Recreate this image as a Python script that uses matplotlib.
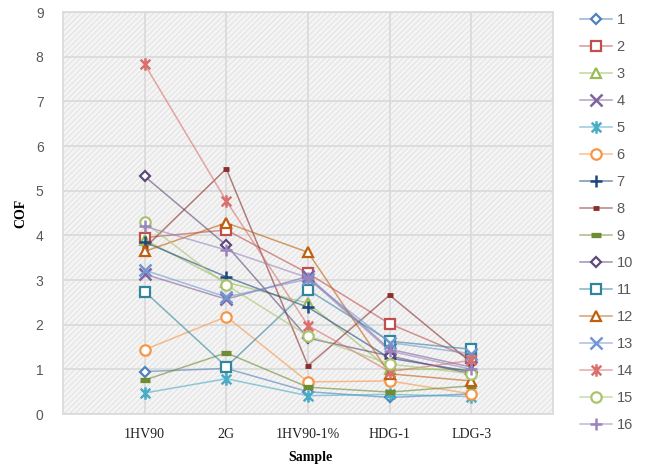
import matplotlib
matplotlib.use("Agg")
import matplotlib.pyplot as plt
from matplotlib.path import Path
from matplotlib.patches import Rectangle
from matplotlib.colors import to_rgba

categories = ['1HV90', '2G', '1HV90-1%', 'HDG-1', 'LDG-3']
s1 = [0.95, 1.02, 0.50, 0.37, 0.45]
s2 = [3.95, 4.12, 3.15, 2.02, 1.25]
s3 = [3.90, 2.95, 2.48, 1.00, 1.00]
s4 = [3.13, 2.57, 3.08, 1.45, 1.05]
s5 = [0.47, 0.79, 0.41, 0.44, 0.39]
s6 = [1.44, 2.18, 0.72, 0.74, 0.45]
s7 = [3.85, 3.07, 2.39, 1.25, 0.95]
s8 = [3.72, 5.49, 1.08, 2.66, 1.15]
s9 = [0.76, 1.37, 0.60, 0.49, 0.63]
s10 = [5.32, 3.78, 1.70, 1.30, 0.90]
s11 = [2.74, 1.06, 2.78, 1.63, 1.45]
s12 = [3.64, 4.28, 3.62, 0.90, 0.74]
s13 = [3.22, 2.62, 3.02, 1.60, 1.35]
s14 = [7.83, 4.77, 1.98, 0.95, 1.20]
s15 = [4.29, 2.89, 1.75, 1.12, 0.90]
s16 = [4.20, 3.67, 3.05, 1.41, 1.00]
series_labels = [str(i) for i in range(1, 17)]
series_values = [s1, s2, s3, s4, s5, s6, s7, s8, s9, s10, s11, s12, s13, s14, s15, s16]
yticks = [0, 1, 2, 3, 4, 5, 6, 7, 8, 9]

star = Path([(-1, -1), (1, 1), (-1, 1), (1, -1), (0, -1.3), (0, 1.3)],
            [Path.MOVETO, Path.LINETO, Path.MOVETO, Path.LINETO, Path.MOVETO, Path.LINETO])

colors = ['#4F81BD', '#C0504D', '#9BBB59', '#8064A2', '#4BACC6', '#F79646',
          '#1F497D', '#8B2F2D', '#6E8C34', '#5F497A', '#31859C', '#C0600E',
          '#7396D1', '#D9706D', '#A9C46C', '#9A85BE']
markers = ['D', 's', '^', 'x', star, 'o', '+', '_', '_', 'D', 's', '^', 'x', star, 'o', '+']
msizes = [5.5, 7, 7.5, 8, 9, 7.5, 8, 5, 7.5, 5.5, 7, 7.5, 8, 9, 7.5, 8]
mews = [1.6, 1.6, 1.6, 1.8, 1.8, 1.6, 1.8, 3.5, 3.8, 1.6, 1.6, 1.6, 1.8, 1.8, 1.6, 1.8]

fig = plt.figure(figsize=(6.5, 4.66), dpi=100)
ax = fig.add_axes([63/650, 1 - 414/466, 490/650, 402/466])
ax.set_facecolor('#f3f3f3')
ax.add_patch(Rectangle((0, 0), 1, 1, transform=ax.transAxes, facecolor='#f5f5f5',
                       edgecolor='#e6e6e6', hatch='//////', linewidth=0, zorder=0))

x = list(range(1, len(categories) + 1))
handles = []
for vals, lab, c, m, ms, mew in zip(series_values, series_labels, colors, markers, msizes, mews):
    lc = to_rgba(c, 0.6)
    h, = ax.plot(x, vals, color=lc, linewidth=1.1, marker=m, markersize=ms,
                 markeredgewidth=mew, markeredgecolor=c, markerfacecolor='white',
                 label=lab, zorder=3)
    handles.append(h)

ax.set_xlim(0, 6)
ax.set_ylim(0, 9)
ax.set_xticks(x)
ax.set_xticklabels(categories, fontfamily='Liberation Serif', fontsize=10, color='#222222')
ax.set_yticks(yticks)
ax.set_yticklabels([str(v) for v in yticks], fontfamily='Liberation Sans', fontsize=10, color='#595959')
ax.tick_params(axis='both', length=0)
ax.tick_params(axis='x', pad=10)
ax.tick_params(axis='y', pad=14)
ax.grid(True, color='#d9d9d9', linewidth=1.2, zorder=1)
ax.set_axisbelow(True)
for sp in ax.spines.values():
    sp.set_color('#d9d9d9')
    sp.set_linewidth(1.2)

ax.set_xlabel('Sample', fontfamily='Liberation Serif', fontweight='bold', fontsize=10)
ax.xaxis.set_label_coords(0.504, -0.093)
ax.set_ylabel('COF', fontfamily='Liberation Serif', fontweight='bold', fontsize=10)
ax.yaxis.set_label_coords(-0.086, 0.5)
ax.yaxis.label.set_verticalalignment('center')

leg = fig.legend(handles=handles, labels=series_labels, loc='upper left',
                 bbox_to_anchor=(580/650, 1 - 13/466), frameon=False,
                 prop={'family': 'Liberation Sans', 'size': 10.5},
                 labelspacing=0.89, handlelength=2.2, handletextpad=0.3,
                 borderaxespad=0, borderpad=0)
for t in leg.get_texts():
    t.set_color('#595959')

fig.savefig('out.png', dpi=100)
